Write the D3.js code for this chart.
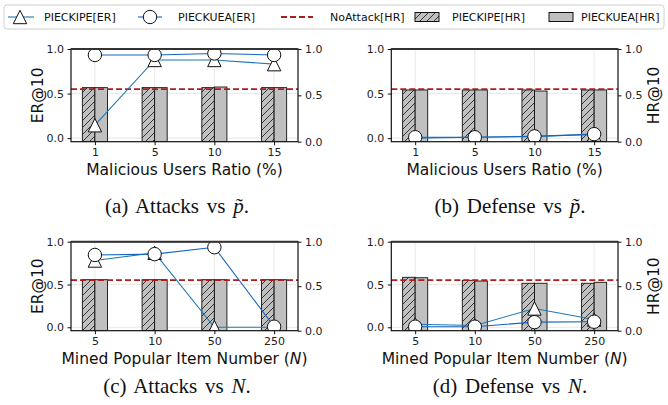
<!DOCTYPE html>
<html><head><meta charset="utf-8">
<script src="https://cdn.jsdelivr.net/npm/d3@7"></script>
<style>body{margin:0;background:#fff}svg{display:block}</style>
</head><body><svg id="c" width="668" height="405"></svg>
<script>
// ---------- data ----------
const catsRatio = ["1", "5", "10", "15"];
const catsN = ["5", "10", "50", "250"];
const leftTicks = [0, 0.5, 1.0];
const rightTicks = [0, 0.5, 1.0];
const noAttackHR = 0.568;

// (a) Attacks vs p
const aErKipe = [0.145, 0.877, 0.877, 0.83];
const aErKuea = [0.933, 0.933, 0.95, 0.933];
const aHrKipe = [0.583, 0.583, 0.583, 0.583];
const aHrKuea = [0.583, 0.583, 0.59, 0.583];
// (b) Defense vs p
const bErKipe = [0.0, 0.01, 0.02, 0.04];
const bErKuea = [0.01, 0.01, 0.02, 0.045];
const bHrKipe = [0.558, 0.558, 0.558, 0.558];
const bHrKuea = [0.558, 0.558, 0.547, 0.558];
// (c) Attacks vs N
const cErKipe = [0.78, 0.87, 0.0, 0.0];
const cErKuea = [0.845, 0.855, 0.935, 0.007];
const cHrKipe = [0.573, 0.573, 0.573, 0.573];
const cHrKuea = [0.573, 0.573, 0.573, 0.573];
// (d) Defense vs N
const dErKipe = [0.035, 0.02, 0.22, 0.09];
const dErKuea = [0.007, 0.007, 0.06, 0.065];
const dHrKipe = [0.6, 0.566, 0.533, 0.533];
const dHrKuea = [0.595, 0.558, 0.533, 0.544];

const legendLabels = ["PIECKIPE[ER]", "PIECKUEA[ER]", "NoAttack[HR]", "PIECKIPE[HR]", "PIECKUEA[HR]"];

// ---------- styles ----------
const SANS = "DejaVu Sans";
const SERIF = "Liberation Serif";
const C_KIPE = "#1f77b4";
const C_KUEA = "#1565c0";
const C_RED = "#b01c1c";
const C_BAR = "#c0c0c0";
const MS = 13.4;

const svg = d3.select("#c");
const defs = svg.append("defs");
const pat = defs.append("pattern").attr("id", "hatch").attr("patternUnits", "userSpaceOnUse")
  .attr("width", 7).attr("height", 7);
pat.append("rect").attr("width", 7).attr("height", 7).attr("fill", C_BAR);
pat.append("path").attr("d", "M-1,8 L8,-1 M-2,2 L2,-2 M5,9 L9,5").attr("stroke", "#111").attr("stroke-width", 0.8);

const triPath = (() => { const h = MS / 2; return `M0,${-h} L${h},${h} L${-h},${h} Z`; })();

const panels = [
  {id: "a", x0: 71, x1: 298, y0: 49, y1: 141.7, cats: catsRatio, kipe: aErKipe, kuea: aErKuea, hk: aHrKipe, hu: aHrKuea,
   xlabel: ["Malicious Users Ratio (%)"], left: true, capY: 213, cap: ["(a) Attacks vs ", "p̃", "."]},
  {id: "b", x0: 391.3, x1: 618, y0: 49, y1: 141.7, cats: catsRatio, kipe: bErKipe, kuea: bErKuea, hk: bHrKipe, hu: bHrKuea,
   xlabel: ["Malicious Users Ratio (%)"], left: false, capY: 213, cap: ["(b) Defense vs ", "p̃", "."]},
  {id: "c", x0: 71, x1: 298, y0: 241.7, y1: 330.7, cats: catsN, kipe: cErKipe, kuea: cErKuea, hk: cHrKipe, hu: cHrKuea,
   xlabel: ["Mined Popular Item Number (", "N", ")"], left: true, capY: 393, cap: ["(c) Attacks vs ", "N", "."]},
  {id: "d", x0: 391.3, x1: 618, y0: 241.7, y1: 330.7, cats: catsN, kipe: dErKipe, kuea: dErKuea, hk: dHrKipe, hu: dHrKuea,
   xlabel: ["Mined Popular Item Number (", "N", ")"], left: false, capY: 393, cap: ["(d) Defense vs ", "N", "."]}
];

panels.forEach(p => {
  const g = svg.append("g");
  const x = d3.scaleLinear().domain([-0.4, 3.4]).range([p.x0, p.x1]);
  const yL = d3.scaleLinear().domain([-0.04, 1.0]).range([p.y1, p.y0]);
  const yR = d3.scaleLinear().domain([0, 1.0]).range([p.y1, p.y0]);
  const idx = d3.range(p.cats.length);

  defs.append("clipPath").attr("id", "clip" + p.id).append("rect")
    .attr("x", p.x0).attr("y", p.y0).attr("width", p.x1 - p.x0).attr("height", p.y1 - p.y0);

  // grid
  g.append("g").selectAll("line").data(idx).join("line")
    .attr("x1", d => x(d)).attr("x2", d => x(d)).attr("y1", p.y0).attr("y2", p.y1)
    .attr("stroke", "#e3e3e3").attr("stroke-width", 0.8);
  g.append("g").selectAll("line").data(leftTicks).join("line")
    .attr("x1", p.x0).attr("x2", p.x1).attr("y1", d => yL(d)).attr("y2", d => yL(d))
    .attr("stroke", "#e3e3e3").attr("stroke-width", 0.8);

  // bars
  const bw = 0.21;
  const bars = g.append("g").attr("clip-path", `url(#clip${p.id})`);
  bars.selectAll("rect.k").data(idx).join("rect").attr("class", "k")
    .attr("x", d => x(d - bw)).attr("width", x(bw) - x(0)).attr("y", d => yR(p.hk[d])).attr("height", d => yR(0) - yR(p.hk[d]))
    .attr("fill", "url(#hatch)").attr("stroke", "#111").attr("stroke-width", 0.9);
  bars.selectAll("rect.u").data(idx).join("rect").attr("class", "u")
    .attr("x", d => x(d)).attr("width", x(bw) - x(0)).attr("y", d => yR(p.hu[d])).attr("height", d => yR(0) - yR(p.hu[d]))
    .attr("fill", C_BAR).attr("stroke", "#111").attr("stroke-width", 0.9);

  // no attack line
  g.append("line").attr("x1", p.x0).attr("x2", p.x1).attr("y1", yR(noAttackHR)).attr("y2", yR(noAttackHR))
    .attr("stroke", C_RED).attr("stroke-width", 1.8).attr("stroke-dasharray", "6,3");

  // ER lines
  const lg = g.append("g").attr("clip-path", `url(#clip${p.id})`);
  const line = arr => d3.line().x(d => x(d)).y(d => yL(arr[d]))(idx);
  lg.append("path").attr("d", line(p.kipe)).attr("fill", "none").attr("stroke", C_KIPE).attr("stroke-width", 1.1);
  lg.append("path").attr("d", line(p.kuea)).attr("fill", "none").attr("stroke", C_KUEA).attr("stroke-width", 1.1);
  lg.selectAll("path.tri").data(idx).join("path").attr("class", "tri")
    .attr("d", triPath).attr("transform", d => `translate(${x(d)},${yL(p.kipe[d])})`)
    .attr("fill", "#fff").attr("stroke", "#111").attr("stroke-width", 1);
  lg.selectAll("circle").data(idx).join("circle")
    .attr("cx", d => x(d)).attr("cy", d => yL(p.kuea[d])).attr("r", MS / 2)
    .attr("fill", "#fff").attr("stroke", "#111").attr("stroke-width", 1);

  // frame
  g.append("rect").attr("x", p.x0).attr("y", p.y0).attr("width", p.x1 - p.x0).attr("height", p.y1 - p.y0)
    .attr("fill", "none").attr("stroke", "#111").attr("stroke-width", 1.2);
  g.append("line").attr("x1", p.x0).attr("x2", p.x1).attr("y1", p.y0).attr("y2", p.y0)
    .attr("stroke", "#333").attr("stroke-width", 2);

  // axes
  const styleAxis = sel => {
    sel.select(".domain").remove();
    sel.selectAll("text").attr("font-family", SANS).attr("font-size", 11).attr("fill", "#222");
    sel.selectAll("line").attr("stroke", "#111");
  };
  g.append("g").attr("transform", `translate(${p.x0},0)`)
    .call(d3.axisLeft(yL).tickValues(leftTicks).tickFormat(d3.format(".1f")).tickSize(3.5).tickPadding(3.5)).call(styleAxis);
  g.append("g").attr("transform", `translate(${p.x1},0)`)
    .call(d3.axisRight(yR).tickValues(rightTicks).tickFormat(d3.format(".1f")).tickSize(3.5).tickPadding(3.5)).call(styleAxis);
  g.append("g").attr("transform", `translate(0,${p.y1})`)
    .call(d3.axisBottom(x).tickValues(idx).tickFormat(i => p.cats[i]).tickSize(3.5).tickPadding(3.5)).call(styleAxis);

  // x label
  const xl = g.append("text").attr("x", (p.x0 + p.x1) / 2).attr("y", p.y1 + 33.5).attr("text-anchor", "middle")
    .attr("font-family", SANS).attr("font-size", 15.5).attr("fill", "#111");
  p.xlabel.forEach((t, i) => xl.append("tspan").text(t).attr("font-style", i === 1 ? "italic" : null));

  // y label
  const yc = (p.y0 + p.y1) / 2;
  if (p.left) {
    g.append("text").attr("transform", `translate(${p.x0 - 33},${yc}) rotate(-90)`).attr("text-anchor", "middle")
      .attr("dy", "0.35em").attr("font-family", SANS).attr("font-size", 15.5).attr("fill", "#111").text("ER@10");
  } else {
    g.append("text").attr("transform", `translate(${p.x1 + 36},${yc}) rotate(-90)`).attr("text-anchor", "middle")
      .attr("dy", "0.35em").attr("font-family", SANS).attr("font-size", 15.5).attr("fill", "#111").text("HR@10");
  }

  // caption
  const cx = p.left ? 177 : 510;
  const ct = g.append("text").attr("x", cx).attr("y", p.capY).attr("text-anchor", "middle")
    .attr("font-family", SERIF).attr("font-size", 21).attr("word-spacing", 2.5).attr("fill", "#111");
  p.cap.forEach((t, i) => ct.append("tspan").text(t).attr("font-style", i === 1 ? "italic" : null));
});

// ---------- legend ----------
const lgd = svg.append("g");
lgd.append("rect").attr("x", 4).attr("y", 5).attr("width", 660).attr("height", 24).attr("rx", 3)
  .attr("fill", "#fff").attr("stroke", "#d0d0d0").attr("stroke-width", 1);
const ly = 17;
const lt = (xx, s) => lgd.append("text").attr("x", xx).attr("y", ly).attr("dy", "0.35em")
  .attr("font-family", SANS).attr("font-size", 11).attr("fill", "#111").text(s);
// triangle
lgd.append("line").attr("x1", 8).attr("x2", 34).attr("y1", ly).attr("y2", ly).attr("stroke", C_KIPE).attr("stroke-width", 1.1);
lgd.append("path").attr("d", triPath).attr("transform", `translate(20,${ly})`).attr("fill", "#fff").attr("stroke", "#111");
lt(44, legendLabels[0]);
// circle
lgd.append("line").attr("x1", 138).attr("x2", 162).attr("y1", ly).attr("y2", ly).attr("stroke", C_KUEA).attr("stroke-width", 1.1);
lgd.append("circle").attr("cx", 150).attr("cy", ly).attr("r", MS / 2).attr("fill", "#fff").attr("stroke", "#111");
lt(178, legendLabels[1]);
// dashed
lgd.append("line").attr("x1", 281).attr("x2", 313).attr("y1", ly).attr("y2", ly).attr("stroke", C_RED)
  .attr("stroke-width", 1.8).attr("stroke-dasharray", "6,3");
lt(330, legendLabels[2]);
// hatch box
lgd.append("rect").attr("x", 415).attr("y", ly - 4.5).attr("width", 24).attr("height", 9).attr("fill", "url(#hatch)").attr("stroke", "#111");
lt(452, legendLabels[3]);
lgd.append("rect").attr("x", 549).attr("y", ly - 4.5).attr("width", 24).attr("height", 9).attr("fill", C_BAR).attr("stroke", "#111");
lt(581, legendLabels[4]);
</script></body></html>
